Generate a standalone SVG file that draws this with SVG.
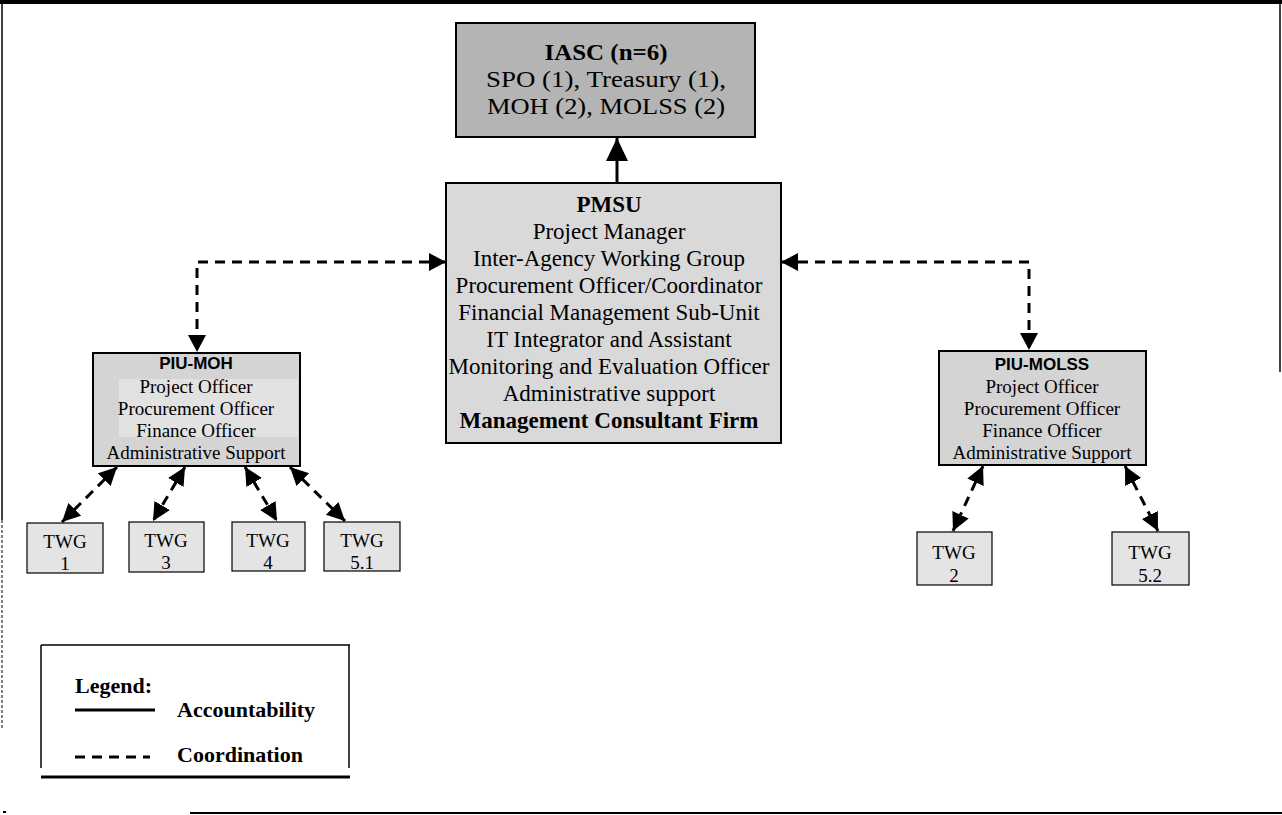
<svg xmlns="http://www.w3.org/2000/svg" width="1282" height="815" viewBox="0 0 1282 815">
<style>
  .serif { font-family: "Liberation Serif", "Times New Roman", serif; fill: #000; }
  .sans { font-family: "Liberation Sans", Arial, sans-serif; fill: #000; font-weight: bold; }
  .box { stroke: #000; stroke-width: 2; }
  .solid { stroke: #000; stroke-width: 3; fill: none; }
  .dash { stroke: #000; stroke-width: 3; fill: none; stroke-dasharray: 10 7; }
  .frame { stroke: #000; fill: none; }
  .twg { fill: #e4e4e4; stroke: #000; stroke-width: 1.2; }
</style>
<defs>
  <marker id="bigHead" markerUnits="userSpaceOnUse" markerWidth="24" markerHeight="24" viewBox="0 0 24 24" refX="23" refY="11" orient="auto-start-reverse">
    <path d="M0,0 L23,11 L0,22 z" fill="#000"/>
  </marker>
  <marker id="midHead" markerUnits="userSpaceOnUse" markerWidth="20" markerHeight="20" viewBox="0 0 20 20" refX="17" refY="9" orient="auto-start-reverse">
    <path d="M0,0 L17,9 L0,18 z" fill="#000"/>
  </marker>
  <marker id="smallHead" markerUnits="userSpaceOnUse" markerWidth="20" markerHeight="20" viewBox="0 0 20 20" refX="18" refY="9" orient="auto-start-reverse">
    <path d="M0,0 L18,9 L0,18 z" fill="#000"/>
  </marker>
</defs>

<g id="page-frame">
  <line class="frame" x1="0" y1="2" x2="1282" y2="2" stroke-width="4"/>
  <line class="frame" x1="2" y1="0" x2="2" y2="520" stroke-width="1.5"/>
  <line class="frame" x1="2" y1="520" x2="2" y2="730" stroke-width="1" stroke="#666" stroke-dasharray="3 2"/>
  <line class="frame" x1="1280" y1="0" x2="1280" y2="372" stroke-width="1.5"/>
  <line class="frame" x1="190" y1="813" x2="1282" y2="813" stroke-width="2"/>
  <line class="frame" x1="3" y1="812" x2="6" y2="812" stroke-width="2"/>
</g>

<g id="connectors">
  <line class="solid" x1="617" y1="183" x2="617" y2="138" marker-end="url(#bigHead)"/>
  <path class="dash" d="M446,262 L197,262 L197,352" marker-start="url(#midHead)" marker-end="url(#midHead)"/>
  <path class="dash" d="M781,262 L1029,262 L1029,350" marker-start="url(#midHead)" marker-end="url(#midHead)"/>
  <line class="dash" x1="117" y1="467" x2="62" y2="522" marker-start="url(#smallHead)" marker-end="url(#smallHead)"/>
  <line class="dash" x1="185" y1="467" x2="153" y2="521" marker-start="url(#smallHead)" marker-end="url(#smallHead)"/>
  <line class="dash" x1="245" y1="467" x2="277" y2="521" marker-start="url(#smallHead)" marker-end="url(#smallHead)"/>
  <line class="dash" x1="290" y1="467" x2="345" y2="521" marker-start="url(#smallHead)" marker-end="url(#smallHead)"/>
  <line class="dash" x1="983" y1="466" x2="953" y2="531" marker-start="url(#smallHead)" marker-end="url(#smallHead)"/>
  <line class="dash" x1="1125" y1="466" x2="1158" y2="531" marker-start="url(#smallHead)" marker-end="url(#smallHead)"/>
</g>

<g id="iasc">
  <rect class="box" x="456" y="23" width="299" height="114" fill="#b4b4b4" stroke-width="1.5"/>
  <text class="serif" x="606" y="60" font-size="24" font-weight="bold" text-anchor="middle" textLength="123" lengthAdjust="spacingAndGlyphs">IASC (n=6)</text>
  <text class="serif" x="606" y="87" font-size="24" text-anchor="middle" textLength="240" lengthAdjust="spacingAndGlyphs">SPO (1), Treasury (1),</text>
  <text class="serif" x="606" y="114" font-size="24" text-anchor="middle" textLength="238" lengthAdjust="spacingAndGlyphs">MOH (2), MOLSS (2)</text>
</g>

<g id="pmsu">
  <rect class="box" x="446" y="183" width="335" height="260" fill="#d9d9d9"/>
  <g class="serif" font-size="23" text-anchor="middle">
    <text x="609" y="212" font-weight="bold">PMSU</text>
    <text x="609" y="239">Project Manager</text>
    <text x="609" y="266">Inter-Agency Working Group</text>
    <text x="609" y="293">Procurement Officer/Coordinator</text>
    <text x="609" y="320">Financial Management Sub-Unit</text>
    <text x="609" y="347">IT Integrator and Assistant</text>
    <text x="609" y="374">Monitoring and Evaluation Officer</text>
    <text x="609" y="401">Administrative support</text>
    <text x="609" y="428" font-weight="bold">Management Consultant Firm</text>
  </g>
</g>

<g id="piu-moh">
  <rect class="box" x="93" y="353" width="207" height="113" fill="#d4d4d4"/>
  <rect x="119" y="379" width="179" height="58" fill="#e2e2e2"/>
  <text class="sans" x="196" y="369" font-size="17" text-anchor="middle">PIU-MOH</text>
  <g class="serif" font-size="19" text-anchor="middle">
    <text x="196" y="393">Project Officer</text>
    <text x="196" y="415">Procurement Officer</text>
    <text x="196" y="437">Finance Officer</text>
    <text x="196" y="459">Administrative Support</text>
  </g>
</g>

<g id="piu-molss">
  <rect class="box" x="939" y="351" width="207" height="114" fill="#d4d4d4"/>
  <text class="sans" x="1042" y="370" font-size="17" text-anchor="middle">PIU-MOLSS</text>
  <g class="serif" font-size="19" text-anchor="middle">
    <text x="1042" y="393">Project Officer</text>
    <text x="1042" y="415">Procurement Officer</text>
    <text x="1042" y="437">Finance Officer</text>
    <text x="1042" y="459">Administrative Support</text>
  </g>
</g>

<g id="twg-1">
  <rect class="twg" x="27" y="523" width="76" height="50"/>
  <text class="serif" x="65" y="548" font-size="19" text-anchor="middle">TWG</text>
  <text class="serif" x="65" y="570" font-size="19" text-anchor="middle">1</text>
</g>
<g id="twg-3">
  <rect class="twg" x="129" y="522" width="75" height="50"/>
  <text class="serif" x="166" y="547" font-size="19" text-anchor="middle">TWG</text>
  <text class="serif" x="166" y="569" font-size="19" text-anchor="middle">3</text>
</g>
<g id="twg-4">
  <rect class="twg" x="232" y="522" width="73" height="49"/>
  <text class="serif" x="268" y="547" font-size="19" text-anchor="middle">TWG</text>
  <text class="serif" x="268" y="569" font-size="19" text-anchor="middle">4</text>
</g>
<g id="twg-5-1">
  <rect class="twg" x="324" y="522" width="76" height="49"/>
  <text class="serif" x="362" y="547" font-size="19" text-anchor="middle">TWG</text>
  <text class="serif" x="362" y="569" font-size="19" text-anchor="middle">5.1</text>
</g>
<g id="twg-2">
  <rect class="twg" x="917" y="532" width="75" height="53"/>
  <text class="serif" x="954" y="559" font-size="19" text-anchor="middle">TWG</text>
  <text class="serif" x="954" y="582" font-size="19" text-anchor="middle">2</text>
</g>
<g id="twg-5-2">
  <rect class="twg" x="1112" y="532" width="77" height="53"/>
  <text class="serif" x="1150" y="559" font-size="19" text-anchor="middle">TWG</text>
  <text class="serif" x="1150" y="582" font-size="19" text-anchor="middle">5.2</text>
</g>

<g id="legend">
  <line class="frame" x1="41" y1="645" x2="350" y2="645" stroke-width="1.5"/>
  <line class="frame" x1="41" y1="645" x2="41" y2="768" stroke-width="1.5"/>
  <line class="frame" x1="349" y1="645" x2="349" y2="768" stroke-width="1.5"/>
  <line class="frame" x1="41" y1="777" x2="350" y2="777" stroke-width="3"/>
  <text class="serif" x="75" y="693" font-size="22" font-weight="bold">Legend:</text>
  <line class="solid" x1="75" y1="710" x2="155" y2="710"/>
  <text class="serif" x="177" y="717" font-size="22" font-weight="bold">Accountability</text>
  <line class="dash" x1="75" y1="757" x2="150" y2="757"/>
  <text class="serif" x="177" y="762" font-size="22" font-weight="bold">Coordination</text>
</g>
</svg>
